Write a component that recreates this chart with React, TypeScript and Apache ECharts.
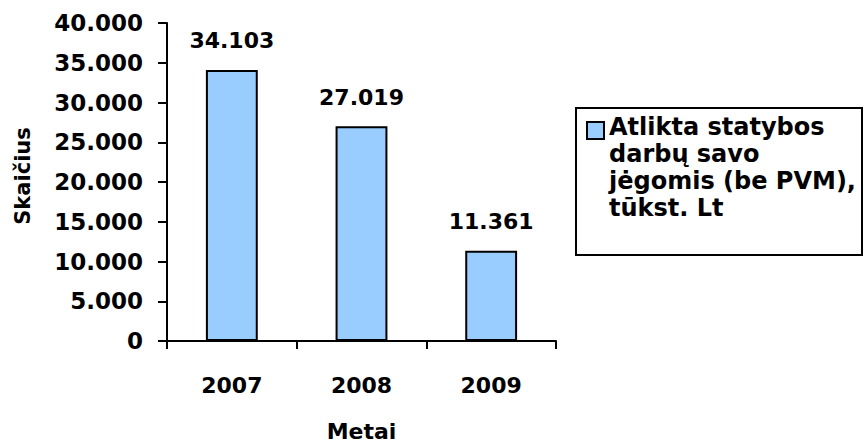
import React, { useEffect, useRef } from "react";
import * as echarts from "echarts";

const categories = ["2007", "2008", "2009"];
const values = [34103, 27019, 11361];
const yTicks = [0, 5000, 10000, 15000, 20000, 25000, 30000, 35000, 40000];
const seriesName = "Atlikta statybos darbų savo jėgomis (be PVM), tūkst. Lt";
const legendLines = ["Atlikta statybos", "darbų savo", "jėgomis (be PVM),", "tūkst. Lt"];
const xAxisName = "Metai";
const yAxisName = "Skaičius";

const FONT = "DejaVu Sans";
const BAR = "#99CCFF";

function fmt(v: number): string {
  const s = Math.round(v).toString();
  return s.replace(/\B(?=(\d{3})+(?!\d))/g, ".");
}

export default function App() {
  const ref = useRef<HTMLDivElement>(null);
  useEffect(() => {
    if (!ref.current) return;
    const chart = echarts.init(ref.current, undefined, { renderer: "svg" });
    chart.setOption({
      animation: false,
      backgroundColor: "#ffffff",
      grid: { left: 167, top: 23, right: 309, bottom: 105, containLabel: false, outerBoundsMode: "none" },
      xAxis: {
        type: "category",
        data: categories,
        name: xAxisName,
        nameLocation: "middle",
        nameGap: 79,
        nameTextStyle: { fontFamily: FONT, fontWeight: "bold", fontSize: 22, color: "#000" },
        axisLine: { show: true, lineStyle: { color: "#000", width: 2 } },
        axisTick: { show: true, length: 8, alignWithLabel: false, lineStyle: { color: "#000", width: 2 } },
        axisLabel: { margin: 33, fontFamily: FONT, fontWeight: "bold", fontSize: 22, color: "#000" },
        splitLine: { show: false },
      },
      yAxis: {
        type: "value",
        min: yTicks[0],
        max: yTicks[yTicks.length - 1],
        interval: yTicks[1] - yTicks[0],
        name: yAxisName,
        nameLocation: "middle",
        nameGap: 134,
        nameRotate: 90,
        nameTextStyle: { fontFamily: FONT, fontWeight: "bold", fontSize: 21, color: "#000", padding: [0, 0, 0, 12] },
        axisLine: { show: true, lineStyle: { color: "#000", width: 2 } },
        axisTick: { show: true, length: 9, lineStyle: { color: "#000", width: 2 } },
        axisLabel: {
          margin: 24,
          fontFamily: FONT,
          fontWeight: "bold",
          fontSize: 23,
          color: "#000",
          formatter: (v: number) => fmt(v),
        },
        splitLine: { show: false },
      },
      series: [
        {
          name: seriesName,
          type: "bar",
          data: values,
          barWidth: "40%",
          itemStyle: { color: BAR, borderColor: "#000", borderWidth: 2 },
          label: {
            show: true,
            position: "top",
            distance: 18,
            fontFamily: FONT,
            fontWeight: "bold",
            fontSize: 22,
            color: "#000",
            formatter: (p: any) => fmt(p.value),
          },
        },
      ],
      graphic: [
        {
          type: "rect",
          shape: { x: 576, y: 108, width: 286, height: 147 },
          style: { fill: "#fff", stroke: "#000", lineWidth: 2 },
        },
        {
          type: "rect",
          shape: { x: 587, y: 122, width: 17, height: 17 },
          style: { fill: BAR, stroke: "#000", lineWidth: 2 },
        },
        {
          type: "text",
          x: 609,
          y: 113,
          style: {
            text: legendLines.join("\n"),
            fontFamily: FONT,
            fontWeight: "bold",
            fontSize: 24,
            lineHeight: 27,
            fill: "#000",
            verticalAlign: "top",
            align: "left",
          },
        },
      ],
    });
    return () => chart.dispose();
  }, []);
  return <div ref={ref} style={{ width: 865, height: 446, position: "absolute", left: 0, top: 0 }} />;
}
